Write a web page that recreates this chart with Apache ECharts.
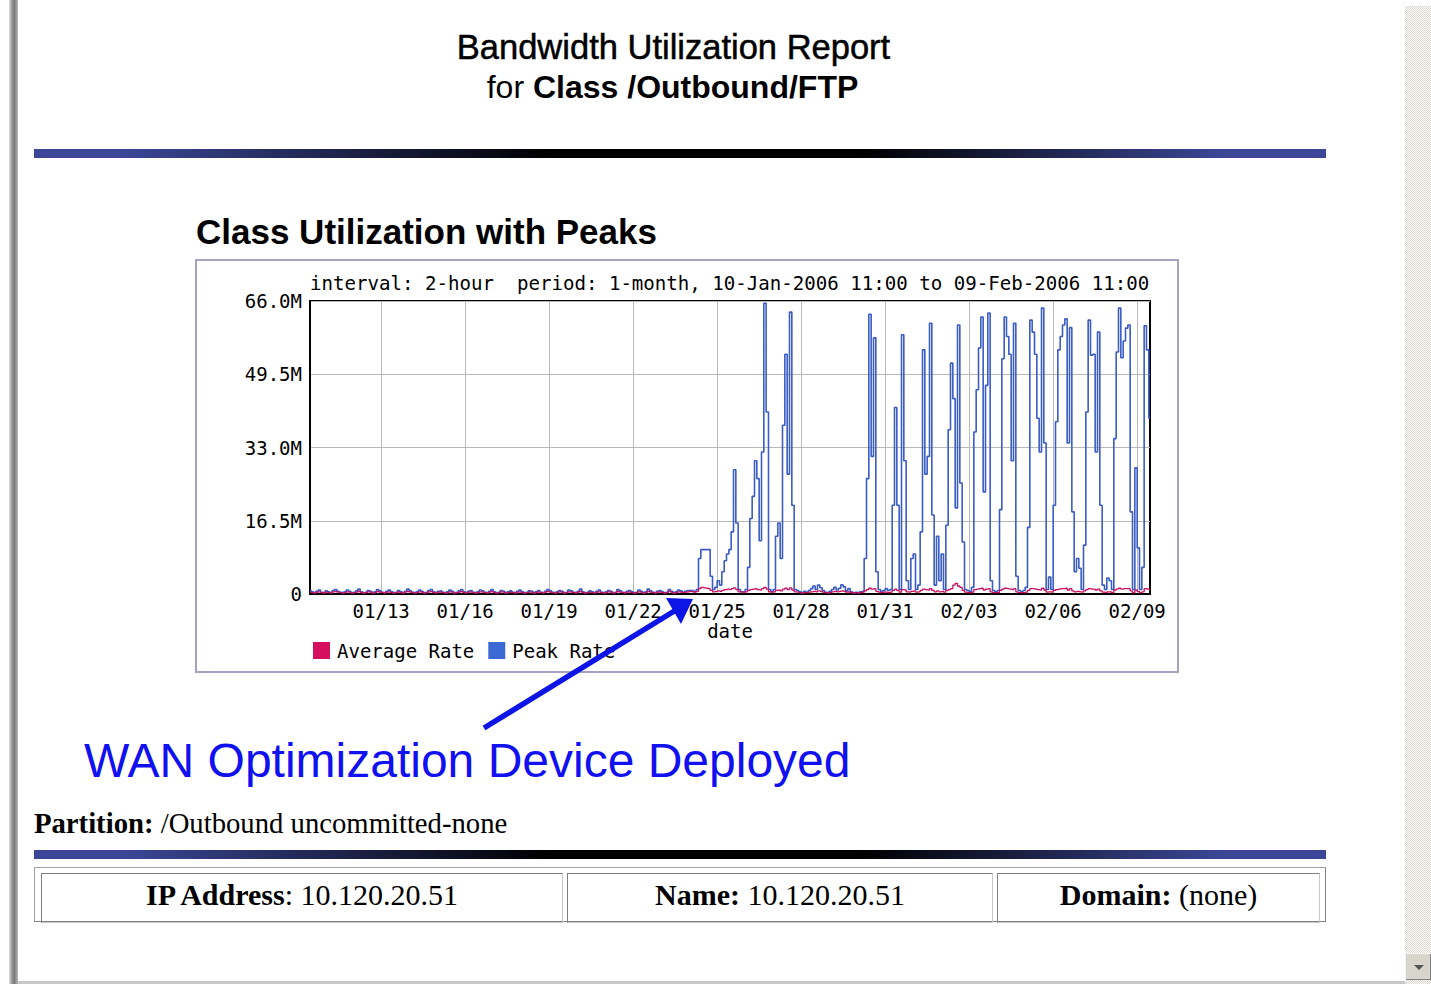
<!DOCTYPE html>
<html>
<head>
<meta charset="utf-8">
<script src="https://cdn.jsdelivr.net/npm/echarts@6/dist/echarts.min.js"></script>
<style>
html,body{margin:0;padding:0;background:#fff;width:1431px;height:984px;overflow:hidden;position:relative;}
.abs{position:absolute;white-space:nowrap;line-height:1;margin:0;}
#leftbar{position:absolute;left:9px;top:0;width:9px;height:984px;background:linear-gradient(to right,#e4e4e4 0,#9a9a9a 30%,#7a7a7a 60%,#b8b8b8 100%);}
#hdr1{left:0;width:1347px;text-align:center;top:28px;font:34.5px "Liberation Sans",Arial,sans-serif;color:#000;-webkit-text-stroke:0.5px #000;}
#hdr2{left:0;width:1345px;text-align:center;top:69px;font:32px "Liberation Sans",Arial,sans-serif;color:#000;}
#hdr2 b{font-weight:bold;}
.gbar{position:absolute;left:34px;width:1292px;height:9px;background:linear-gradient(to right,#3b4796 0%,#3b4796 7%,#000 40%,#000 64%,#3b4796 92%,#3b4796 100%);}
#ctitle{left:196px;top:212px;font:bold 35px "Liberation Sans",Arial,sans-serif;color:#000;}
#anno{left:84px;top:733px;font:48px "Liberation Sans",Arial,sans-serif;color:#1010f0;}
#part{left:34px;top:807px;font:28.7px "Liberation Serif","Times New Roman",serif;color:#000;}
#tbl{position:absolute;left:34px;top:867px;width:1290px;height:53px;border:1px solid #a0a0a0;border-bottom-color:#808080;border-right-color:#808080;}
.cell{position:absolute;top:873px;height:42px;border:1px solid #808080;border-bottom-color:#c8c8c8;border-right-color:#c8c8c8;text-align:center;font:30px "Liberation Serif","Times New Roman",serif;line-height:1;padding-top:6px;box-sizing:content-box;white-space:nowrap;}
#scroll{position:absolute;left:1405px;top:6px;width:26px;height:978px;background-color:#f4f2ec;background-image:repeating-conic-gradient(#dcdad2 0 25%,#fbfaf6 0 50%);background-size:2px 2px;}
#sbtn{position:absolute;left:1405px;top:953px;width:26px;height:27px;background:#d8d5cc;border-top:1px solid #f4f4f4;border-left:1px solid #f4f4f4;box-sizing:border-box;box-shadow:inset -1px -1px 0 #808080;}
#sbtn:after{content:"";position:absolute;left:8px;top:11px;border-left:5px solid transparent;border-right:5px solid transparent;border-top:5px solid #555;}
#bottomline{position:absolute;left:18px;top:981px;width:1387px;height:3px;background:#c8c8c8;}
#chart{position:absolute;left:0;top:0;width:1431px;height:984px;}
</style>
</head>
<body>
<div id="leftbar"></div>
<div id="hdr1" class="abs">Bandwidth Utilization Report</div>
<div id="hdr2" class="abs">for <b>Class /Outbound/FTP</b></div>
<div class="gbar" style="top:149px"></div>
<div id="ctitle" class="abs">Class Utilization with Peaks</div>
<div id="anno" class="abs">WAN Optimization Device Deployed</div>
<div id="part" class="abs"><b>Partition:</b> /Outbound uncommitted-none</div>
<div class="gbar" style="top:850px"></div>
<div id="tbl"></div>
<div class="cell" style="left:41px;width:520px;"><b>IP Address</b>: 10.120.20.51</div>
<div class="cell" style="left:567px;width:424px;"><b>Name:</b> 10.120.20.51</div>
<div class="cell" style="left:997px;width:321px;"><b>Domain:</b> (none)</div>
<div id="scroll"></div>
<div id="sbtn"></div>
<div id="bottomline"></div>
<div id="chart"></div>
<script>
// ---- data ----
// 2-hour samples starting 10-Jan-2006 11:00 (x in days after 01-Jan-2006 00:00)
const startDay = 9 + 11 / 24;
const stepDays = 2 / 24;
const tickDays = [12, 15, 18, 21, 24, 27, 30, 33, 36, 39];
const xTickLabels = ['01/13', '01/16', '01/19', '01/22', '01/25', '01/28', '01/31', '02/03', '02/06', '02/09'];
const yTickLabels = ['0', '16.5M', '33.0M', '49.5M', '66.0M'];
const seriesNames = ['Average Rate', 'Peak Rate'];

// Peak Rate (Mbps), 361 samples
const peakRate = [
  0.8,0.5,0.3,0.6,0.9,0.4,0.3,0.7,0.5,0.3,0.8,1.0,0.6,0.4,0.3,0.5,0.9,0.6,0.3,0.4,
  0.7,1.1,0.5,0.3,0.4,0.8,0.6,0.3,0.5,1.0,0.7,0.4,0.3,0.6,0.9,0.5,0.3,0.4,0.8,0.5,
  0.3,0.6,1.1,0.7,0.4,0.3,0.5,0.9,0.6,0.3,0.4,0.8,1.0,0.5,0.3,0.6,0.7,0.4,0.3,0.5,
  0.9,0.6,0.3,0.4,0.7,1.0,0.5,0.3,0.6,0.8,0.4,0.3,0.5,0.9,0.7,0.4,0.3,0.6,1.0,0.5,
  0.3,0.4,0.8,0.6,0.3,0.5,0.7,0.4,0.3,0.6,0.9,0.5,0.3,0.4,0.7,0.6,0.3,0.5,0.8,0.4,
  0.3,0.6,1.0,0.7,0.4,0.3,0.5,0.8,0.6,0.3,0.4,0.9,0.7,0.4,0.3,0.6,1.1,0.5,0.3,0.4,
  0.7,0.5,0.3,0.6,0.9,0.4,0.3,0.5,0.8,0.6,0.3,0.4,1.0,0.7,0.4,0.3,0.6,0.8,0.5,0.3,
  0.4,0.9,0.6,0.3,0.5,1.1,0.7,0.4,0.3,0.6,0.8,0.5,0.3,0.4,1.0,0.6,0.3,0.5,0.9,0.7,
  0.4,0.6,0.8,
  0.8,0.8,0.5,1.0,
  8,10,10,10,10,4,1,1.5,3,2,5,7.5,9,10,14,28,16,1,0.5,0.5,
  1,6,17,22,30,26,12,32,65.5,41,1,0.5,1,13,16,8,38,54,27,63.5,
  20,1,0.8,
  0.5,0.3,0.6,0.4,0.8,1.2,1.8,1.0,2.0,1.4,0.8,0.4,0.3,0.6,1.0,1.5,0.9,1.3,2.1,1.6,
  0.7,1.2,0.5,0.3,0.4,0.3,0.5,0.6,
  8,26,63,31,57.7,5,1,0.6,0.8,1.2,0.8,1.0,20,42,20,1,58.4,30,3,1,
  8,9,1,2,14,55,27,31,61,17.8,2,13,3,9,1,15.5,37,52,44,19.4,
  60.6,25,11.7,1,0.8,0.5,1.5,36.5,46,55.4,62.4,23,47,63.3,3,0.8,0.5,0.8,19,53,
  62.4,58,54,30,61,4,0.8,0.5,0.8,1.5,15,61.7,59,54,39.6,32,64.4,34,1,3.8,
  1,20,38.8,55,58,60.6,62,34,60,18.5,5,8,5.8,1,11,41,61.7,53.8,54,32,
  59,20,2,1,3.6,3,1,35,54.5,64.4,53.2,57,59.9,60.6,18.5,1,28.4,10.4,1,6,
  60.4,55,39.6
];

// Average Rate (Mbps), 361 samples
const averageRate = [
  0.4,0.3,0.2,0.4,0.5,0.3,0.2,0.4,0.3,0.2,0.5,0.6,0.4,0.3,0.2,0.3,0.5,0.4,0.2,0.3,
  0.4,0.6,0.3,0.2,0.3,0.5,0.4,0.2,0.3,0.6,0.4,0.3,0.2,0.4,0.5,0.3,0.2,0.3,0.5,0.3,
  0.2,0.4,0.6,0.4,0.3,0.2,0.3,0.5,0.4,0.2,0.3,0.5,0.6,0.3,0.2,0.4,0.4,0.3,0.2,0.3,
  0.5,0.4,0.2,0.3,0.4,0.6,0.3,0.2,0.4,0.5,0.3,0.2,0.3,0.5,0.4,0.3,0.2,0.4,0.6,0.3,
  0.2,0.3,0.5,0.4,0.2,0.3,0.4,0.3,0.2,0.4,0.5,0.3,0.2,0.3,0.4,0.4,0.2,0.3,0.5,0.3,
  0.2,0.4,0.6,0.4,0.3,0.2,0.3,0.5,0.4,0.2,0.3,0.5,0.4,0.3,0.2,0.4,0.6,0.3,0.2,0.3,
  0.4,0.3,0.2,0.4,0.5,0.3,0.2,0.3,0.5,0.4,0.2,0.3,0.6,0.4,0.3,0.2,0.4,0.5,0.3,0.2,
  0.3,0.5,0.4,0.2,0.3,0.6,0.4,0.3,0.2,0.4,0.5,0.3,0.2,0.3,0.6,0.4,0.2,0.3,0.5,0.4,
  0.3,0.4,0.5,0.6,0.5,0.4,0.6,1.2,1.5,1.4,1.3,1.2,0.8,0.5,0.6,0.7,0.6,0.8,1.0,1.1,
  1.0,1.2,1.4,1.0,0.5,0.4,0.4,0.5,0.8,1.0,1.1,1.2,1.0,0.9,1.2,1.5,1.1,0.5,0.4,0.5,
  0.8,0.9,0.7,1.1,1.3,1.0,1.4,0.9,0.5,0.4,0.3,0.2,0.3,0.3,0.4,0.5,0.6,0.5,0.7,0.6,
  0.4,0.3,0.2,0.3,0.5,0.6,0.5,0.6,0.7,0.6,0.4,0.5,0.3,0.2,0.3,0.2,0.3,0.4,0.7,1.0,
  1.3,1.1,1.2,0.6,0.4,0.3,0.4,0.4,0.3,0.4,0.8,1.1,0.8,0.4,1.0,0.9,0.5,0.4,0.6,0.7,
  0.4,0.5,0.8,1.1,1.0,0.9,1.2,0.8,0.5,0.7,0.5,0.6,0.4,0.8,1.0,1.2,2.0,2.4,1.8,1.5,
  0.8,0.4,0.3,0.3,0.4,1.0,1.1,1.2,1.3,0.9,1.1,1.2,0.5,0.3,0.3,0.3,0.8,1.1,1.3,1.2,
  1.1,1.0,1.2,0.5,0.3,0.3,0.3,0.4,0.8,1.2,1.2,1.1,1.0,0.9,1.3,0.9,0.4,0.5,0.4,0.8,
  1.0,1.1,1.2,1.2,1.3,0.9,1.2,0.7,0.5,0.6,0.5,0.4,0.7,1.0,1.2,1.1,1.1,0.9,1.1,0.7,
  0.4,0.3,0.5,0.5,0.3,0.9,1.1,1.3,1.1,1.2,1.2,1.2,0.7,0.3,0.9,0.6,0.3,0.5,1.2,1.1,1.0
];

const chartTitle = 'interval: 2-hour\u00a0 period: 1-month, 10-Jan-2006 11:00 to 09-Feb-2006 11:00';

// ---- chart ----
const toPairs = arr => arr.map((v, k) => [startDay + k * stepDays, v]);
const mono = '"DejaVu Sans Mono", "Liberation Mono", monospace';
const chart = echarts.init(document.getElementById('chart'), null, { renderer: 'svg' });

chart.setOption({
  animation: false,
  backgroundColor: 'transparent',
  title: {
    text: chartTitle,
    left: 310, top: 274, padding: 0,
    textStyle: { fontFamily: mono, fontSize: 19.1, fontWeight: 'normal', color: '#000' }
  },
  legend: {
    data: seriesNames,
    left: 313, top: 641, padding: 0,
    icon: 'rect', itemWidth: 17, itemHeight: 17, itemGap: 14,
    textStyle: { fontFamily: mono, fontSize: 19, color: '#000', padding: [0, 0, 0, 2] }
  },
  grid: {
    left: 310, top: 301, width: 840, height: 293,
    show: true, borderColor: '#000', borderWidth: 2, backgroundColor: 'transparent'
  },
  xAxis: {
    type: 'value',
    min: startDay, max: startDay + (peakRate.length - 1) * stepDays,
    name: 'date', nameLocation: 'middle', nameGap: 27,
    nameTextStyle: { fontFamily: mono, fontSize: 19, color: '#000' },
    axisLine: { show: true, onZero: false, lineStyle: { color: '#000', width: 2 } },
    axisTick: { show: false, customValues: tickDays },
    axisLabel: {
      customValues: tickDays, margin: 7,
      fontFamily: mono, fontSize: 19, color: '#000',
      formatter: v => { const i = tickDays.indexOf(Math.round(v)); return i >= 0 ? xTickLabels[i] : ''; }
    },
    splitLine: { show: true, lineStyle: { color: '#b8b8b8', width: 1 } }
  },
  yAxis: {
    type: 'value', min: 0, max: 66, interval: 16.5,
    axisLine: { show: true, lineStyle: { color: '#000', width: 2 } },
    axisTick: { show: false },
    axisLabel: {
      margin: 8, fontFamily: mono, fontSize: 19, color: '#000',
      formatter: v => yTickLabels[Math.round(v / 16.5)]
    },
    splitLine: { show: true, lineStyle: { color: '#b8b8b8', width: 1 } }
  },
  series: [
    {
      name: seriesNames[1], type: 'line', data: toPairs(peakRate),
      showSymbol: false, step: 'middle', z: 3,
      itemStyle: { color: '#3b6ad4' },
      lineStyle: { color: '#3a5cc4', width: 1.6 }
    },
    {
      name: seriesNames[0], type: 'line', data: toPairs(averageRate),
      showSymbol: false, step: 'middle', z: 4,
      itemStyle: { color: '#d4105e' },
      lineStyle: { color: '#cc1060', width: 1.3 }
    }
  ],
  graphic: [
    { type: 'rect', silent: true, z: 0, shape: { x: 196, y: 260, width: 982, height: 412 },
      style: { fill: 'none', stroke: '#a4a4c0', lineWidth: 2 } },
    { type: 'line', silent: true, z: 100, shape: { x1: 484, y1: 728, x2: 676, y2: 610 },
      style: { stroke: '#0c14e6', lineWidth: 5.5 } },
    { type: 'polygon', silent: true, z: 100, shape: { points: [[693, 599], [666, 598], [681, 624]] },
      style: { fill: '#0c14e6' } }
  ]
});
</script>
</body>
</html>
